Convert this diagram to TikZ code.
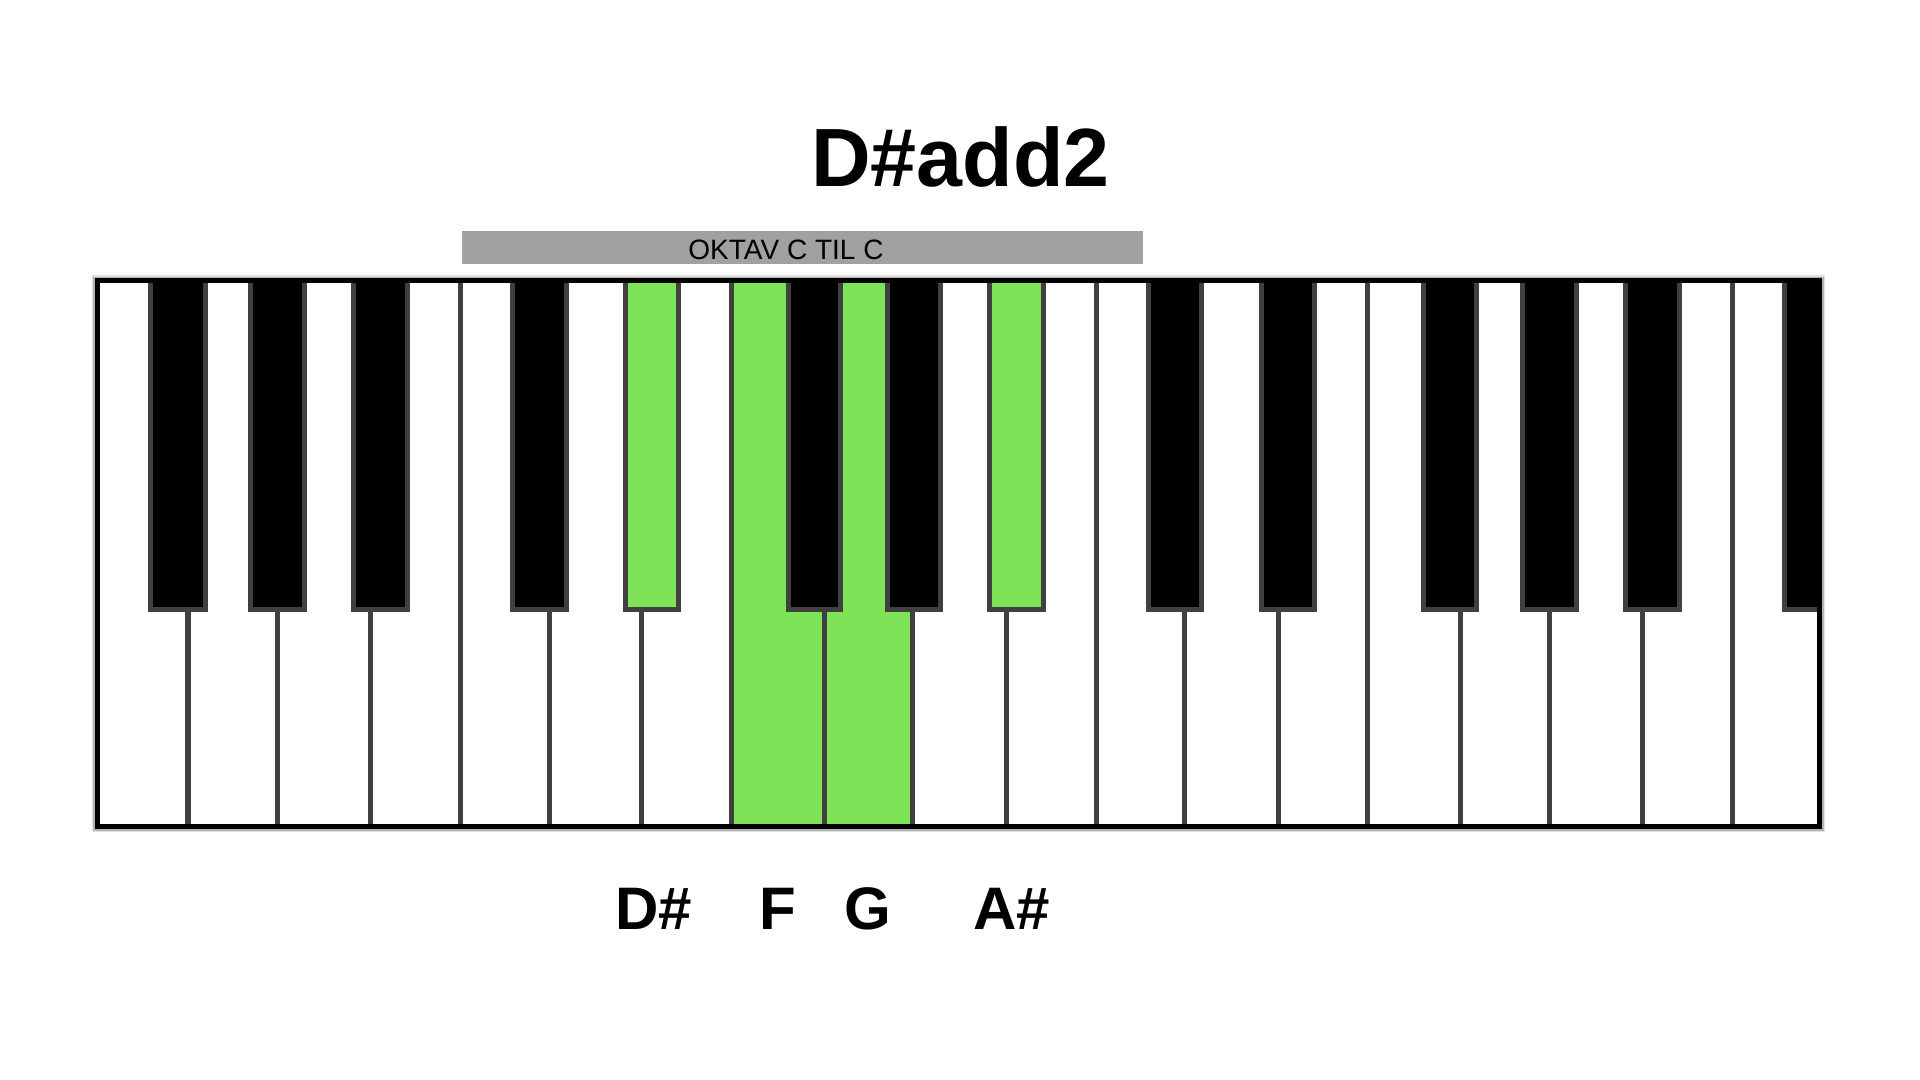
\documentclass[tikz,border=0pt]{standalone}
\usepackage{fontspec}
\setmainfont{Liberation Sans}
\definecolor{keygreen}{RGB}{126,227,87}
\definecolor{keyborder}{RGB}{64,64,64}
\definecolor{bargray}{RGB}{161,161,161}
\begin{document}
\begin{tikzpicture}[x=0.01cm,y=-0.01cm,
  whitekey/.style={fill=white,draw=keyborder,line width=0.05cm},
  greenkey/.style={fill=keygreen,draw=keyborder,line width=0.05cm},
  blackkey/.style={fill=black,draw=keyborder,line width=0.05cm},
  greenblack/.style={fill=keygreen,draw=keyborder,line width=0.05cm},
  framebox/.style={draw=black,line width=0.05cm},
  octavebar/.style={fill=bargray,draw=none,inner sep=0pt,minimum width=6.81cm,minimum height=0.33cm},
  bartext/.style={anchor=base,inner sep=0pt,font=\fontsize{7.97}{9.5}\selectfont},
  titletext/.style={anchor=base,inner sep=0pt,font=\fontsize{23.5}{28}\selectfont\bfseries},
  notelabel/.style={anchor=base,inner sep=0pt,font=\fontsize{17.07}{20}\selectfont\bfseries}]
\fill[white] (0,0) rectangle (1920,1080);
\useasboundingbox (0,0) rectangle (1920,1080);

% title
\node[titletext] (title) at (960.5,187) {D\#add2};

% octave bar
\node[octavebar] (octave) at (802.5,247.5) {};
\node[bartext] (octavetext) at (786,260) {OKTAV C TIL C};

% soft shadow of the keyboard frame
\draw[black!12,line width=0.11cm] (97.5,281) rectangle (1819.5,827);
\draw[black!30,line width=0.08cm] (97.5,281) rectangle (1819.5,827);

% white keys
\foreach \a/\b in {97.5/188,188/277.5,277.5/370.5,370.5/460,460/549.6,549.6/641.4,
  641.4/731.6,912/1006.7,1006.7/1096,1096/1184.8,1184.8/1278.3,1278.3/1367.6,
  1367.6/1460,1460/1549.3,1549.3/1642.2,1642.2/1732,1732/1819.5}
  \draw[whitekey] (\a,281) rectangle (\b,827);
\draw[greenkey] (731.6,281) rectangle (824.5,827);
\draw[greenkey] (824.5,281) rectangle (912,827);

% black keys
\foreach \a/\b in {150.8/205.2,250.8/304.8,353.2/407.5,512.5/566.5,
  788.2/840.8,887.5/940.2,1148.5/1201.8,1261.2/1314.5,1423.5/1476.8,
  1522.5/1576.8,1625.2/1679.2,1784.5/1819.5}
  \draw[blackkey] (\a,281) rectangle (\b,609.2);
\draw[greenblack] (625.2,281) rectangle (678.5,609.2);
\draw[greenblack] (989.8,281) rectangle (1043.2,609.2);

% frame
\draw[framebox] (97.5,281) rectangle (1819.5,827);

% note labels
\node[notelabel] (dsharp) at (654,930) {D\#};
\node[notelabel] (f) at (778,930) {F};
\node[notelabel] (g) at (867.5,930) {G};
\node[notelabel] (asharp) at (1012,930) {A\#};
\end{tikzpicture}
\end{document}
